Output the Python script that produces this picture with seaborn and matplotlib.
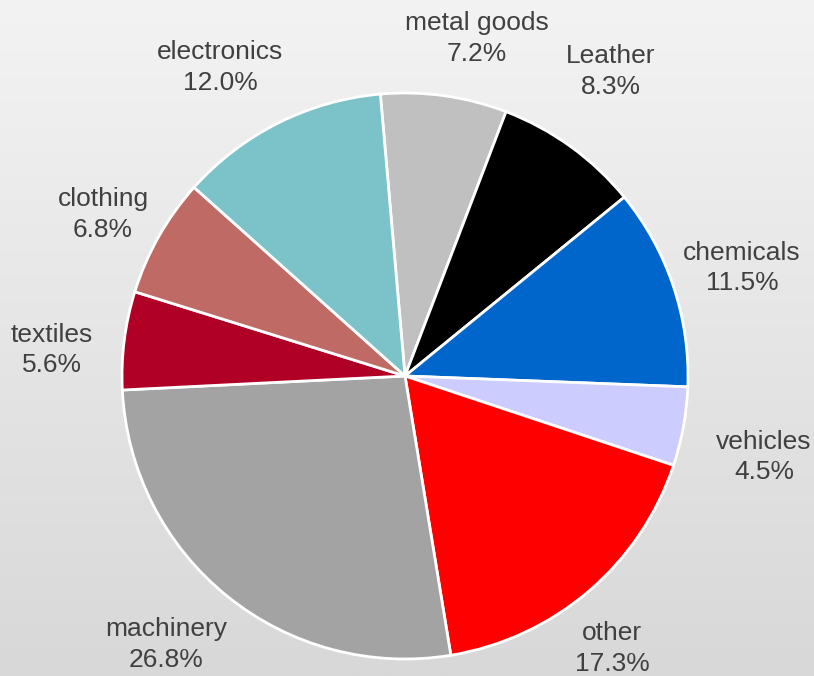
import numpy as np
import matplotlib
matplotlib.use("Agg")
import matplotlib.pyplot as plt
import seaborn as sns
from matplotlib.colors import LinearSegmentedColormap

categories = ["metal goods", "Leather", "chemicals", "vehicles", "other",
              "machinery", "textiles", "clothing", "electronics"]
shares = [7.2, 8.3, 11.5, 4.5, 17.3, 26.8, 5.6, 6.8, 12.0]
colors = ["#c0c0c0", "#000000", "#0066cc", "#ccccff", "#ff0000",
          "#a3a3a3", "#b00026", "#c06a66", "#7bc3c8"]

# label layout (radial distance in radii, angular nudge in degrees)
label_dist = [1.22, 1.30, 1.25, 1.30, 1.21, 1.27, 1.25, 1.21, 1.27]
label_nudge = [-4.0, 1.8, -0.7, -2.4, -3.2, -2.8, 3.0, 1.4, 4.3]

sns.set_theme(style="white")
plt.rcParams["font.family"] = ["Liberation Sans", "DejaVu Sans"]

W, H = 814, 676
fig = plt.figure(figsize=(W / 100, H / 100), dpi=100)

# background gradient
bg = fig.add_axes([0, 0, 1, 1], zorder=-10)
grad = np.linspace(0, 1, 256).reshape(-1, 1)
cmap = LinearSegmentedColormap.from_list("bg", ["#f3f3f3", "#d8d8d8"])
bg.imshow(grad, aspect="auto", cmap=cmap, extent=[0, 1, 0, 1], origin="upper")
bg.set_axis_off()

ax = fig.add_axes([0, 0, 1, 1])
ax.set_facecolor("none")
R = 283.0
cx, cy = 405.0, 376.0

labels = [f"{c}\n{v:.1f}%" for c, v in zip(categories, shares)]
wedges, texts = ax.pie(shares, colors=colors, startangle=95, counterclock=False,
                       labels=labels, labeldistance=1.25,
                       wedgeprops=dict(edgecolor="white", linewidth=2),
                       textprops=dict(fontsize=19, color="#404040"))
for w, t, d, n in zip(wedges, texts, label_dist, label_nudge):
    ang = np.deg2rad((w.theta1 + w.theta2) / 2 + n)
    t.set_position((d * np.cos(ang), d * np.sin(ang)))
    t.set_ha("center")
    t.set_va("center")
    t.set_multialignment("center")
    t.set_linespacing(1.35)

ax.set_aspect("auto")
ax.set_xlim(-cx / R, (W - cx) / R)
ax.set_ylim(-(H - cy) / R, cy / R)
ax.set_axis_off()

fig.savefig("out.png", dpi=100)
